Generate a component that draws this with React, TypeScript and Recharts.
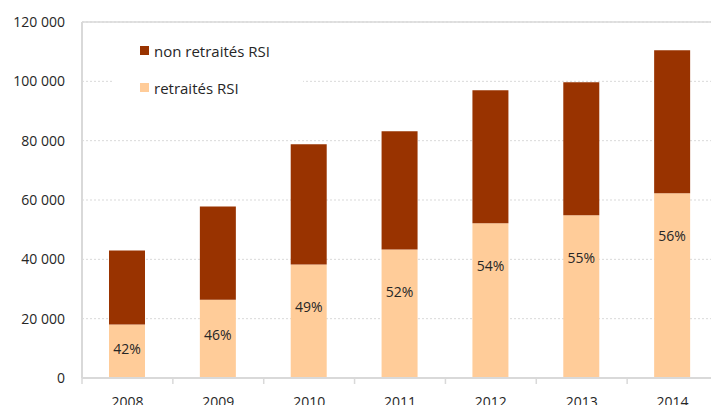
import { BarChart, Bar, XAxis, YAxis, CartesianGrid, Legend, ReferenceLine, LabelList } from "recharts";

const years = ["2008", "2009", "2010", "2011", "2012", "2013", "2014"];
const retraites = [18000, 26400, 38300, 43300, 52200, 54900, 62300];
const nonRetraites = [25000, 31400, 40500, 39900, 44800, 44800, 48200];
const yTicks = [0, 20000, 40000, 60000, 80000, 100000, 120000];

const DARK = "#993300";
const LIGHT = "#ffcc99";
const FONT = "'Open Sans', sans-serif";

const data = years.map((year, i) => ({
  year,
  retraites: retraites[i],
  nonRetraites: nonRetraites[i],
  share: Math.round((retraites[i] / (retraites[i] + nonRetraites[i])) * 100),
}));

// plot is 636px wide, 7 categories
const BAND = 636 / years.length;

const formatThousands = (v: number) => String(v).replace(/\B(?=(\d{3})+(?!\d))/g, " ");

const YearTick = (props: any) => {
  const { x, y, payload } = props;
  return (
    <g>
      <line x1={x - BAND / 2} x2={x - BAND / 2} y1={y} y2={y + 6} stroke="#d9d9d9" strokeWidth={1.5} />
      <text x={x} y={y + 29} textAnchor="middle" fontSize={14} fill="#262626" fontFamily={FONT}>
        {payload.value}
      </text>
    </g>
  );
};

// label sits near the top of the light segment, a bit lower for short bars
const ShareLabel = (props: any) => {
  const { x, y, width, height, value } = props;
  return (
    <text
      x={x + width / 2}
      y={y + Math.min(height * 0.45, 42)}
      textAnchor="middle"
      dominantBaseline="central"
      fontSize={14}
      fill="#262626"
      fontFamily={FONT}
    >
      {value}%
    </text>
  );
};

const legendItems = [
  { label: "non retraités RSI", color: DARK },
  { label: "retraités RSI", color: LIGHT },
];

const LegendBox = () => (
  <div style={{ background: "#fff", width: 190, height: 78, paddingLeft: 27, paddingTop: 9, boxSizing: "border-box" }}>
    {legendItems.map((item) => (
      <div key={item.label} style={{ display: "flex", alignItems: "center", height: 19, marginBottom: 18 }}>
        <span style={{ width: 9, height: 9, background: item.color, marginRight: 5, display: "inline-block" }} />
        <span style={{ fontSize: 15, color: "#262626", fontFamily: FONT, whiteSpace: "nowrap" }}>{item.label}</span>
      </div>
    ))}
  </div>
);

export default function App() {
  return (
    <div style={{ position: "absolute", left: 0, top: 0, width: 711, height: 405, overflow: "hidden", background: "#fff" }}>
      <BarChart width={730} height={420} data={data} margin={{ top: 22, right: 12, left: 8, bottom: 12 }}>
        <CartesianGrid vertical={false} stroke="#d9d9d9" strokeDasharray="2 2" />
        <ReferenceLine y={120000} stroke="#d9d9d9" strokeWidth={1.5} />
        <XAxis
          dataKey="year"
          height={30}
          axisLine={{ stroke: "#d9d9d9", strokeWidth: 2 }}
          tickLine={false}
          tickSize={0}
          tickMargin={0}
          tick={<YearTick />}
          interval={0}
        />
        <YAxis
          width={74}
          domain={[0, 120000]}
          ticks={yTicks}
          tickFormatter={formatThousands}
          axisLine={{ stroke: "#d9d9d9", strokeWidth: 2 }}
          tickLine={false}
          tickSize={0}
          tickMargin={17}
          tick={{ fontSize: 14, fill: "#262626", fontFamily: FONT }}
          interval={0}
        />
        <Legend
          content={<LegendBox />}
          layout="vertical"
          verticalAlign="middle"
          align="center"
          wrapperStyle={{ left: 113, top: 32, width: 190, height: 78 }}
        />
        <Bar dataKey="retraites" stackId="a" fill={LIGHT} barSize={36} isAnimationActive={false}>
          <LabelList dataKey="share" content={<ShareLabel />} />
        </Bar>
        <Bar dataKey="nonRetraites" stackId="a" fill={DARK} barSize={36} isAnimationActive={false} />
      </BarChart>
    </div>
  );
}
